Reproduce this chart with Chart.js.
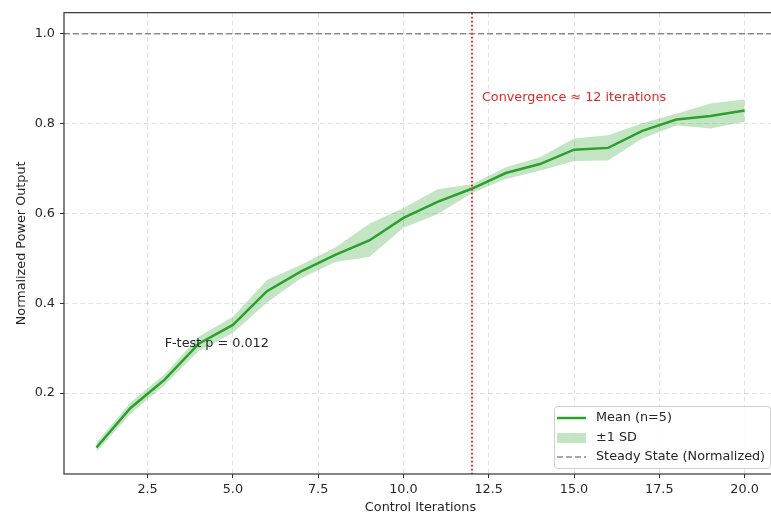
<!DOCTYPE html>
<html>
<head>
<meta charset="utf-8">
<script src="https://cdn.jsdelivr.net/npm/chart.js@4.4.1/dist/chart.umd.min.js"></script>
<style>
  html, body { margin: 0; padding: 0; background: #fff; overflow: hidden; }
  #wrap { width: 771px; height: 516px; overflow: hidden; }
  canvas { display: block; }
</style>
</head>
<body>
<div id="wrap"><canvas id="chart" width="790" height="516"></canvas></div>
<script>
  // data
  const iterations = [1, 2, 3, 4, 5, 6, 7, 8, 9, 10, 11, 12, 13, 14, 15, 16, 17, 18, 19, 20];
  const meanPower = [0.079, 0.167, 0.230, 0.310, 0.352, 0.427, 0.471, 0.508, 0.540, 0.590,
                     0.626, 0.655, 0.690, 0.710, 0.742, 0.746, 0.784, 0.809, 0.817, 0.829];
  const sdPower = [0.010, 0.013, 0.012, 0.016, 0.018, 0.025, 0.015, 0.016, 0.037, 0.022,
                   0.028, 0.010, 0.013, 0.015, 0.025, 0.028, 0.017, 0.013, 0.028, 0.025];
  const xTicks = [2.5, 5.0, 7.5, 10.0, 12.5, 15.0, 17.5, 20.0];
  const yTicks = [0.2, 0.4, 0.6, 0.8, 1.0];
  const steadyState = 1.0;
  const convergenceIter = 12;

  const GREEN = '#2ca02c';
  const BAND = 'rgba(44,160,44,0.28)';
  const RED = '#e0282e';
  const FONT = '"DejaVu Sans", sans-serif';
  const TEXT = '#262626';

  const pts = (ys) => iterations.map((x, i) => ({ x: x, y: ys[i] }));
  const lower = meanPower.map((m, i) => m - sdPower[i]);
  const upper = meanPower.map((m, i) => m + sdPower[i]);

  const overlay = {
    id: 'overlay',
    afterDatasetsDraw(chart) {
      const ctx = chart.ctx;
      const a = chart.chartArea;
      const xs = chart.scales.x, ys = chart.scales.y;
      ctx.save();
      ctx.beginPath();
      ctx.rect(a.left, a.top, a.right - a.left, a.bottom - a.top);
      ctx.clip();

      // steady state
      const yS = ys.getPixelForValue(steadyState);
      ctx.strokeStyle = 'rgba(120,120,120,0.85)';
      ctx.lineWidth = 1.4;
      ctx.setLineDash([6, 3]);
      ctx.beginPath();
      ctx.moveTo(a.left, yS);
      ctx.lineTo(a.right, yS);
      ctx.stroke();

      // convergence marker
      const xC = Math.round(xs.getPixelForValue(convergenceIter));
      ctx.strokeStyle = RED;
      ctx.lineWidth = 2;
      ctx.setLineDash([1.8, 2.2]);
      ctx.beginPath();
      ctx.moveTo(xC, a.top);
      ctx.lineTo(xC, a.bottom);
      ctx.stroke();
      ctx.restore();

      // text notes
      ctx.save();
      ctx.font = '12.8px ' + FONT;
      ctx.textBaseline = 'middle';
      ctx.textAlign = 'left';
      ctx.fillStyle = RED;
      ctx.fillText('Convergence \u2248 12 iterations', xs.getPixelForValue(12.3), ys.getPixelForValue(0.858));
      ctx.fillStyle = TEXT;
      ctx.fillText('F-test p = 0.012', xs.getPixelForValue(3.0), ys.getPixelForValue(0.31));
      ctx.restore();

      // axes frame
      ctx.save();
      ctx.strokeStyle = '#333';
      ctx.lineWidth = 1.2;
      ctx.strokeRect(a.left, a.top, a.right - a.left, a.bottom - a.top);
      ctx.restore();

      // legend
      ctx.save();
      const bw = 216, bh = 62;
      const bx = a.right - 7 - bw, by = a.bottom - 6 - bh;
      ctx.fillStyle = 'rgba(255,255,255,0.85)';
      ctx.strokeStyle = '#d0d0d0';
      ctx.lineWidth = 1;
      ctx.beginPath();
      ctx.roundRect(bx + 0.5, by + 0.5, bw, bh, 3);
      ctx.fill();
      ctx.stroke();
      const hx = bx + 3, hw = 29, tx = bx + 42;
      const rows = [by + 12, by + 32, by + 51];
      ctx.strokeStyle = GREEN;
      ctx.lineWidth = 2.5;
      ctx.beginPath();
      ctx.moveTo(hx, rows[0]);
      ctx.lineTo(hx + hw, rows[0]);
      ctx.stroke();
      ctx.fillStyle = BAND;
      ctx.fillRect(hx, rows[1] - 5, hw, 10);
      ctx.strokeStyle = 'rgba(120,120,120,0.85)';
      ctx.lineWidth = 1.4;
      ctx.setLineDash([6, 3]);
      ctx.beginPath();
      ctx.moveTo(hx, rows[2]);
      ctx.lineTo(hx + hw, rows[2]);
      ctx.stroke();
      ctx.setLineDash([]);
      ctx.font = '12.8px ' + FONT;
      ctx.fillStyle = TEXT;
      ctx.textBaseline = 'middle';
      ctx.textAlign = 'left';
      ctx.fillText('Mean (n=5)', tx, rows[0]);
      ctx.fillText('\u00b11 SD', tx, rows[1]);
      ctx.fillText('Steady State (Normalized)', tx, rows[2]);
      ctx.restore();
    }
  };

  const gridOpts = {
    color: 'rgba(0,0,0,0.14)',
    lineWidth: 0.8,
    drawTicks: true,
    tickLength: 4,
    tickColor: '#333',
    tickWidth: 1,
    tickBorderDash: []
  };
  const borderOpts = { display: false, dash: [5, 3] };

  new Chart(document.getElementById('chart'), {
    type: 'line',
    data: {
      datasets: [
        {
          label: 'Mean (n=5)',
          data: pts(meanPower),
          borderColor: GREEN,
          borderWidth: 2.5,
          pointRadius: 0,
          tension: 0,
          fill: false
        },
        {
          label: 'lower',
          data: pts(lower),
          borderWidth: 0,
          borderColor: 'rgba(0,0,0,0)',
          pointRadius: 0,
          fill: false
        },
        {
          label: '\u00b11 SD',
          data: pts(upper),
          borderWidth: 0,
          borderColor: 'rgba(0,0,0,0)',
          backgroundColor: BAND,
          pointRadius: 0,
          fill: '-1'
        }
      ]
    },
    options: {
      responsive: false,
      animation: false,
      devicePixelRatio: 1,
      layout: { padding: { top: 11, right: 13, left: 0, bottom: 0 } },
      plugins: { legend: { display: false }, tooltip: { enabled: false } },
      scales: {
        x: {
          type: 'linear',
          min: 0.05,
          max: 20.95,
          afterBuildTicks: (s) => { s.ticks = xTicks.map(v => ({ value: v })); },
          afterFit: (s) => { s.height = 42; },
          grid: gridOpts,
          border: borderOpts,
          ticks: {
            padding: 4,
            color: TEXT,
            font: { family: FONT, size: 12.8 },
            callback: (v) => Number(v).toFixed(1)
          },
          title: {
            display: true,
            text: 'Control Iterations',
            color: TEXT,
            font: { family: FONT, size: 12.8 },
            padding: { top: 0, bottom: 1 }
          }
        },
        y: {
          type: 'linear',
          min: 0.02,
          max: 1.047,
          afterBuildTicks: (s) => { s.ticks = yTicks.map(v => ({ value: v })); },
          afterFit: (s) => { s.width = 64; },
          grid: gridOpts,
          border: borderOpts,
          ticks: {
            padding: 5,
            color: TEXT,
            font: { family: FONT, size: 12.8 },
            callback: (v) => Number(v).toFixed(1)
          },
          title: {
            display: true,
            text: 'Normalized Power Output',
            color: TEXT,
            font: { family: FONT, size: 12.8 },
            padding: { top: 14, bottom: 0 }
          }
        }
      }
    },
    plugins: [overlay]
  });
</script>
</body>
</html>
